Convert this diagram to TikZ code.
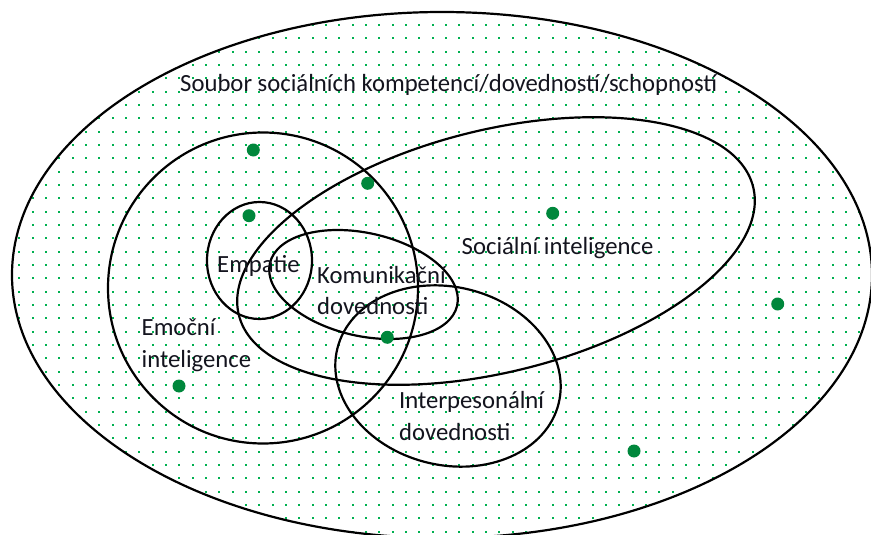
\documentclass[tikz,border=0pt]{standalone}
\usepackage{fontspec}
\setmainfont{Carlito}
\definecolor{smalldot}{RGB}{0,176,80}
\definecolor{bigdot}{RGB}{0,135,60}
\definecolor{txt}{RGB}{20,20,30}
\begin{document}
\begin{tikzpicture}[x=1pt,y=1pt,
  setline/.style={draw=black,line width=2.2pt},
  bigpt/.style={fill=bigdot},
  lbl/.style={anchor=base west,inner sep=0pt,text=txt,font=\fontsize{24.7}{29}\selectfont}]
\useasboundingbox (0,0) rectangle (871,-535);
% dotted background clipped to outer ellipse
\begin{scope}
  \clip (442,-275) ellipse [x radius=430pt, y radius=263pt];
  \foreach \i in {0,...,65} {
    \foreach \j in {0,...,40} {
      \fill[smalldot] (5.1+13.333*\i,-10.8-13.333*\j) rectangle ++(2,-2);
    }
  }
\end{scope}
% sets
\draw[setline] (442,-275) ellipse [x radius=430pt, y radius=263pt];
\draw[setline] (263,-288) ellipse [x radius=155pt, y radius=155.5pt];
\draw[setline] (259.5,-260.5) ellipse [x radius=52.5pt, y radius=58.5pt];
\draw[setline, rotate around={14:(496,-251)}] (496,-251) ellipse [x radius=265pt, y radius=121pt];
\draw[setline, rotate around={-12.7:(363.5,-284.5)}] (363.5,-284.5) ellipse [x radius=96pt, y radius=51.5pt];
\draw[setline, rotate around={-14:(448,-376)}] (448,-376) ellipse [x radius=114pt, y radius=89pt];
% big dots
\foreach \p/\n in {(253.3,-150)/d1,(367.7,-183.3)/d2,(249,-215.7)/d3,(552.7,-213.3)/d4,(777.7,-304)/d5,(387.3,-337.3)/d6,(179,-386)/d7,(634,-451)/d8}
  \fill[bigpt] \p circle [radius=6.5pt];
% labels
\node[lbl] (soubor) at (180,-92) {Soubor sociálních kompetencí/dovedností/schopností};
\node[lbl] (emp) at (217,-272) {Empatie};
\node[lbl] (kom1) at (317,-283.5) {Komunikační};
\node[lbl] (kom2) at (317,-314) {dovednosti};
\node[lbl] (soc) at (461.5,-254) {Sociální inteligence};
\node[lbl] (emo1) at (141.5,-335) {Emoční};
\node[lbl] (emo2) at (141.5,-367) {inteligence};
\node[lbl] (int1) at (399,-408.5) {Interpesonální};
\node[lbl] (int2) at (399,-440) {dovednosti};
\end{tikzpicture}
\end{document}
